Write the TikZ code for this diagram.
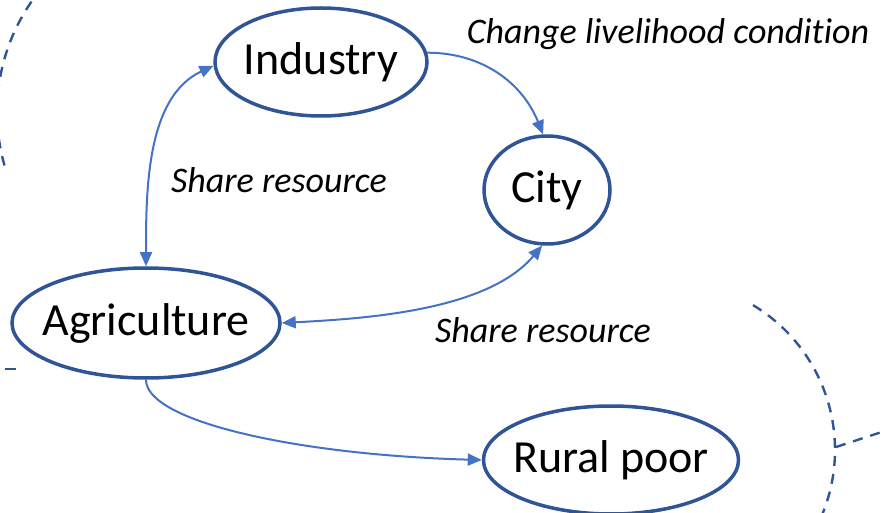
\documentclass[tikz,border=0pt]{standalone}
\usepackage{fontspec}
\setmainfont{Carlito}[Ligatures={NoCommon}]
\usetikzlibrary{arrows.meta,shapes.geometric}
\definecolor{ringblue}{HTML}{2F5597}
\definecolor{linkblue}{HTML}{4472C4}
\newcommand{\zw}[1]{\makebox[0pt][c]{#1}}
\tikzset{
  oval/.style={ellipse, draw=ringblue, line width=3.5pt, inner sep=0pt, font=\fontsize{46}{50}\selectfont},
  link/.style={draw=linkblue, line width=2pt},
  tip/.style={-{Triangle[length=14pt,width=12pt]}},
  tips/.style={{Triangle[length=14pt,width=12pt]}-{Triangle[length=14pt,width=12pt]}},
  lbl/.style={font=\fontsize{36}{40}\selectfont\itshape, inner sep=0pt, anchor=base},
  ring/.style={draw=ringblue, line width=2.4pt, dash pattern=on 10pt off 8pt},
}
\begin{document}
\begin{tikzpicture}[x=1pt,y=1pt]
\useasboundingbox (0,0) rectangle (884,512);
\clip (0,0) rectangle (884,512);
% dashed rings
\draw[ring] (191,400) ++(140:194) arc[start angle=140, end angle=196, radius=194];
\draw[ring] (666,62) ++(59:169) arc[start angle=59, end angle=-40, radius=169];
\draw[ring] (836,65) -- (900,86);
\draw[draw=ringblue, line width=2.4pt] (5,143) -- (16,143);
% nodes
\node[oval, minimum width=212pt, minimum height=108pt] (ind) at (321,450) {\zw{Industry}};
\node[oval, minimum width=126pt, minimum height=108pt] (city) at (547,322) {\zw{City}};
\node[oval, minimum width=268pt, minimum height=110pt] (agr) at (146,189) {\zw{Agriculture}};
\node[oval, minimum width=255pt, minimum height=108pt] (rur) at (611,52) {\zw{Rural poor}};
% connectors
\draw[link, tips] (agr.north) to[out=90, in=205, looseness=0.9] (ind.182);
\draw[link, tip] (ind.5) to[out=0, in=112, looseness=1] (city.94);
\draw[link, tips] (agr.east) to[out=3, in=230, looseness=0.8] (city.265);
\draw[link, tip] (agr.south) .. controls +(0,-42) and +(-183,5) .. (rur.west);
% labels
\node[lbl] (l1) at (668,468) {Change livelihood condition};
\node[lbl] (l2) at (279,319) {Share resource};
\node[lbl] (l3) at (543,169) {Share resource};
\end{tikzpicture}
\end{document}
